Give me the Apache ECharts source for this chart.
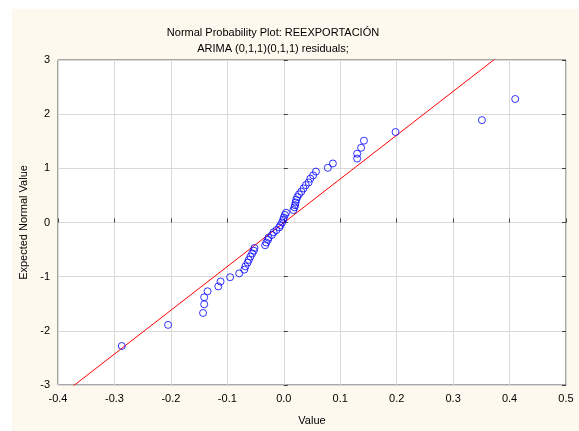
<!DOCTYPE html>
<html>
<head>
<meta charset="utf-8">
<script src="https://cdn.jsdelivr.net/npm/echarts@6/dist/echarts.min.js"></script>
<style>
  html, body { margin: 0; padding: 0; background: #fff; }
  #chart { width: 579px; height: 431px; }
</style>
</head>
<body>
<div id="chart"></div>
<script>
// residuals (sorted) and their expected normal values
var residuals = [
  -0.287, -0.205, -0.143, -0.141, -0.141, -0.135, -0.116, -0.112, -0.095, -0.079,
  -0.070, -0.068, -0.064, -0.062, -0.059, -0.056, -0.053, -0.052, -0.033, -0.031,
  -0.028, -0.027, -0.021, -0.018, -0.013, -0.008, -0.006, -0.003, -0.001, 0.000,
  0.002, 0.004, 0.017, 0.019, 0.020, 0.021, 0.022, 0.024, 0.027, 0.031,
  0.035, 0.039, 0.044, 0.047, 0.052, 0.057, 0.078, 0.087, 0.130, 0.130,
  0.137, 0.142, 0.198, 0.351, 0.410
];
var expectedNormal = [
  -2.28, -1.89, -1.67, -1.51, -1.38, -1.27, -1.18, -1.09, -1.01, -0.94,
  -0.87, -0.81, -0.74, -0.69, -0.63, -0.57, -0.52, -0.47, -0.42, -0.37,
  -0.32, -0.28, -0.23, -0.18, -0.14, -0.09, -0.05, 0.00, 0.05, 0.09,
  0.14, 0.18, 0.23, 0.28, 0.32, 0.37, 0.42, 0.47, 0.52, 0.57,
  0.63, 0.69, 0.74, 0.81, 0.87, 0.94, 1.01, 1.09, 1.18, 1.27,
  1.38, 1.51, 1.67, 1.89, 2.28
];
// reference line: expected = intercept + slope * value
var lineSlope = 8.08;
var lineIntercept = -0.004;
var lineX = [-0.4, 0.5];

var xTicks = { min: -0.4, max: 0.5, step: 0.1 };
var yTicks = { min: -3, max: 3, step: 1 };

var points = residuals.map(function (v, i) { return [v, expectedNormal[i]]; });
var linePts = lineX.map(function (x) { return [x, lineIntercept + lineSlope * x]; });

var font = "'Liberation Sans', Arial, sans-serif";
var chart = echarts.init(document.getElementById("chart"));

var option = {
  backgroundColor: "#ffffff",
  animation: false,
  graphic: [
    {
      type: "rect",
      z: -10,
      shape: { x: 12, y: 9, width: 567, height: 422 },
      style: { fill: "#fdf9ee" }
    }
  ],
  title: {
    text: "Normal Probability Plot: REEXPORTACIÓN\nARIMA (0,1,1)(0,1,1) residuals;",
    left: 268,
    top: 20,
    textAlign: "center",
    textStyle: {
      fontFamily: font,
      fontSize: 11,
      fontWeight: "normal",
      color: "#000",
      lineHeight: 16
    }
  },
  grid: {
    left: 58,
    right: 13,
    top: 60,
    bottom: 44,
    show: true,
    backgroundColor: "#ffffff",
    borderColor: "#505050",
    borderWidth: 1
  },
  xAxis: {
    type: "value",
    min: xTicks.min,
    max: xTicks.max,
    interval: xTicks.step,
    name: "Value",
    nameLocation: "middle",
    nameGap: 30,
    nameTextStyle: { fontFamily: font, fontSize: 11, color: "#000" },
    axisLine: { show: false },
    axisTick: { show: true, inside: true, length: 4, lineStyle: { color: "#404040" } },
    axisLabel: {
      fontFamily: font,
      fontSize: 11,
      color: "#000",
      margin: 8,
      formatter: function (v) { return v.toFixed(1); }
    },
    splitLine: { show: true, lineStyle: { color: "#d9d9d9", width: 1 } }
  },
  yAxis: [
    {
      type: "value",
      min: yTicks.min,
      max: yTicks.max,
      interval: yTicks.step,
      name: "Expected Normal Value",
      nameLocation: "middle",
      nameGap: 28,
      nameTextStyle: { fontFamily: font, fontSize: 11, color: "#000" },
      axisLine: { show: false },
      axisTick: { show: true, inside: true, length: 4, lineStyle: { color: "#404040" } },
      axisLabel: { fontFamily: font, fontSize: 11, color: "#000", margin: 8 },
      splitLine: { show: true, lineStyle: { color: "#d9d9d9", width: 1 } }
    },
    {
      type: "value",
      position: "right",
      min: yTicks.min,
      max: yTicks.max,
      interval: yTicks.step,
      axisLine: { show: false },
      axisTick: { show: true, inside: true, length: 4, lineStyle: { color: "#404040" } },
      axisLabel: { show: false },
      splitLine: { show: false }
    }
  ],
  series: [
    {
      type: "line",
      data: linePts,
      symbol: "none",
      clip: true,
      lineStyle: { color: "#ff0000", width: 1 },
      z: 2
    },
    {
      type: "scatter",
      data: points,
      symbol: "circle",
      symbolSize: 7,
      itemStyle: { color: "rgba(0,0,0,0)", borderColor: "#0000ff", borderWidth: 1 },
      z: 3
    }
  ]
};

chart.setOption(option);
</script>
</body>
</html>
